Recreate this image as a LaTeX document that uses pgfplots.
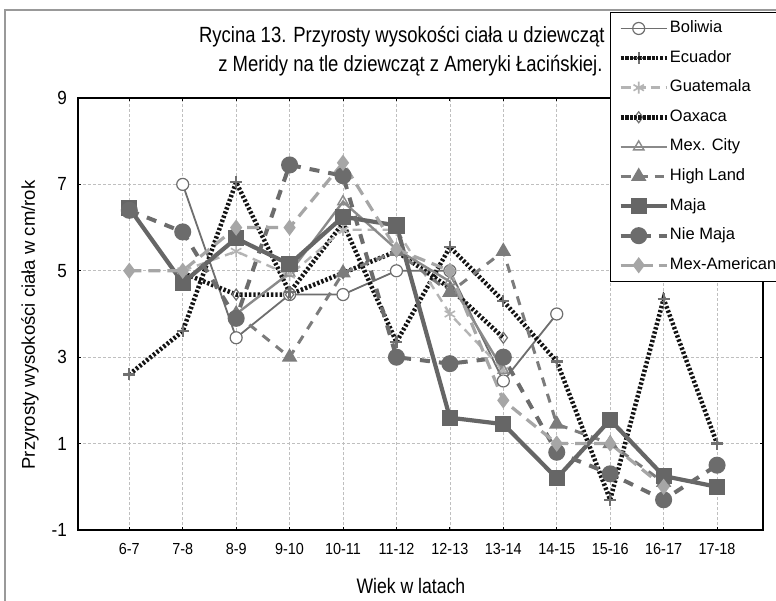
\documentclass[border=0pt]{standalone}
\usepackage{fontspec}
\setmainfont{Liberation Sans}
\newfontfamily\narrowfont[FakeStretch=0.84]{Liberation Sans}
\newfontfamily\tickfont[FakeStretch=0.9]{Liberation Sans}
\usepackage{pgfplots}
\pgfplotsset{compat=1.18}
\usetikzlibrary{plotmarks}

\definecolor{cBol}{HTML}{6E6E6E}
\definecolor{cEcu}{HTML}{707070}
\definecolor{cGua}{HTML}{B4B4B4}
\definecolor{cCity}{HTML}{8A8A8A}
\definecolor{cHigh}{HTML}{7C7C7C}
\definecolor{cMaja}{HTML}{666666}
\definecolor{cNie}{HTML}{6C6C6C}
\definecolor{cMexAm}{HTML}{A6A6A6}
\definecolor{cDot}{HTML}{141414}

\begin{document}
\begin{tikzpicture}
\useasboundingbox (0,0) rectangle (776bp,601bp);
\fill[white] (0,0) rectangle (776bp,601bp);
\draw[black!40, line width=1.5bp] (5bp,-10bp) rectangle (800bp,591bp);

% title, right end hidden under the legend
\node[anchor=base east, font=\narrowfont\fontsize{22bp}{26bp}\selectfont] at (608bp,558bp) {Rycina 13. Przyrosty wysokości ciała u dziewcząt};
\node[anchor=base east, font=\narrowfont\fontsize{22bp}{26bp}\selectfont] at (606bp,529bp) {z Meridy na tle dziewcząt z Ameryki Łacińskiej.};

\begin{axis}[
  at={(78bp,71bp)}, anchor=south west, scale only axis,
  width=685bp, height=432bp,
  xmin=-0.96, xmax=11.86, ymin=-1, ymax=9,
  xtick={0,...,11},
  xticklabels={6-7,7-8,8-9,9-10,10-11,11-12,12-13,13-14,14-15,15-16,16-17,17-18},
  ytick={-1,1,3,5,7,9},
  yticklabels={-1,1,3,5,7,9},
  xticklabel style={font=\tickfont\fontsize{16bp}{19bp}\selectfont, inner sep=0pt, yshift=-13bp},
  yticklabel style={font=\tickfont\fontsize{19bp}{22bp}\selectfont, inner sep=0pt, xshift=-11bp},
  grid=major,
  grid style={densely dashed, black!25, line width=0.7bp},
  axis line style={black, line width=1.3bp},
  tick align=inside,
  major tick length=3bp,
  tick style={black, line width=0.8bp},
  xlabel={Wiek w latach},
  xlabel style={at={(axis description cs:0.486,-0.148)}, anchor=base, font=\narrowfont\fontsize{21bp}{25bp}\selectfont},
  ylabel={Przyrosty wysokości ciała w cm/rok},
  ylabel style={at={(axis description cs:-0.070,0.4745)}, anchor=center, font=\fontsize{18.5bp}{22bp}\selectfont},
  legend style={at={(axis description cs:0.7766,1.1991)}, anchor=north west,
    draw=black, line width=1bp, fill=white,
    font=\fontsize{16.5bp}{20bp}\selectfont,
    inner xsep=8bp, inner ysep=7bp, row sep=11.6bp,
    nodes={inner sep=1bp, text height=12bp, text depth=4bp}},
  legend cell align=left,
  legend image code/.code={%
    \draw[mark repeat=2,mark phase=2] plot coordinates {(0bp,0bp) (17bp,0bp) (34bp,0bp)};
    \path (-1bp,0bp) -- (45bp,0bp);},
]

% Boliwia
\addplot[draw=cBol, line width=1.8bp, mark=*, mark size=6bp,
  mark options={solid, fill=white, draw=cBol, line width=1.2bp}] coordinates {
  (1,7.0) (2,3.45) (3,4.45) (4,4.45) (5,5.0) (6,5.0) (7,2.45) (8,4.0)
};
\addlegendentry{Boliwia}

% Ecuador
\addplot[draw=cDot, line width=4.5bp, dash pattern=on 2.4bp off 2bp, mark=+, mark size=6bp,
  mark options={solid, draw=cEcu, line width=2.2bp}] coordinates {
  (0,2.6) (1,3.6) (2,7.05) (3,4.5) (4,6.1) (5,3.35) (6,5.55) (7,4.3) (8,2.9) (9,-0.3) (10,4.35) (11,1.0)
};
\addlegendentry{Ecuador}

% Guatemala
\addplot[draw=cGua, line width=2.4bp, dash pattern=on 9bp off 6bp, mark=asterisk, mark size=6bp,
  mark options={solid, draw=cGua, line width=1.6bp}] coordinates {
  (1,5.0) (2,5.45) (3,4.9) (4,5.95) (5,5.95) (6,4.0) (7,2.7)
};
\addlegendentry{Guatemala}

% Oaxaca
\addplot[draw=cDot, line width=4.5bp, dash pattern=on 2.4bp off 2bp, mark=diamond, mark size=5.5bp,
  mark options={solid, fill=white, draw=cEcu, line width=1.2bp}] coordinates {
  (1,4.95) (2,4.45) (3,4.45) (4,4.95) (5,5.45) (6,4.6) (7,3.45)
};
\addlegendentry{Oaxaca}

% Mex. City
\addplot[draw=cCity, line width=2.4bp, mark=triangle, mark size=6bp,
  mark options={solid, fill=white, draw=cCity, line width=1.4bp}] coordinates {
  (2,4.0) (3,4.95) (4,6.6) (5,5.5) (6,4.75) (7,2.7)
};
\addlegendentry{Mex. City}

% High Land
\addplot[draw=cHigh, line width=3bp, dash pattern=on 9bp off 8bp, mark=triangle*, mark size=6bp,
  mark options={solid, fill=cHigh, draw=cHigh}] coordinates {
  (2,4.0) (3,3.0) (4,4.95) (5,5.45) (6,4.5) (7,5.45) (8,1.45) (9,1.0) (10,0.1)
};
\addlegendentry{High Land}

% Maja
\addplot[draw=cMaja, line width=4.2bp, mark=square*, mark size=6bp,
  mark options={solid, fill=cMaja, draw=cMaja}] coordinates {
  (0,6.45) (1,4.72) (2,5.75) (3,5.15) (4,6.25) (5,6.05) (6,1.6) (7,1.45) (8,0.2) (9,1.55) (10,0.25) (11,0.0)
};
\addlegendentry{Maja}

% Nie Maja
\addplot[draw=cNie, line width=4bp, dash pattern=on 10bp off 9bp, mark=*, mark size=6.5bp,
  mark options={solid, fill=cNie, draw=cNie}] coordinates {
  (0,6.4) (1,5.9) (2,3.9) (3,7.45) (4,7.2) (5,3.0) (6,2.85) (7,3.0) (8,0.8) (9,0.3) (10,-0.3) (11,0.5)
};
\addlegendentry{Nie Maja}

% Mex-American
\addplot[draw=cMexAm, line width=3.2bp, dash pattern=on 12bp off 7bp, mark=diamond*, mark size=5.5bp,
  mark options={solid, fill=cMexAm, draw=cMexAm}] coordinates {
  (0,5.0) (1,5.0) (2,6.0) (3,6.0) (4,7.5) (5,5.5) (6,5.0) (7,2.0) (8,1.0) (9,1.0) (10,0.0)
};
\addlegendentry{Mex-American\hspace*{14bp}}

\end{axis}
\end{tikzpicture}
\end{document}
